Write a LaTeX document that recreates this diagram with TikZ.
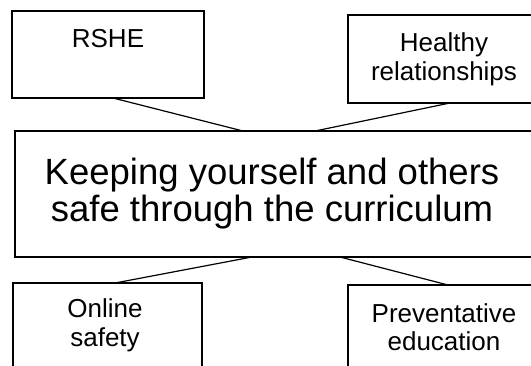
\documentclass[tikz,border=0pt]{standalone}
\usepackage{fontspec}
\setmainfont{Liberation Sans}
\begin{document}
\begin{tikzpicture}[x=1pt,y=-1pt,
  box/.style={draw=black,line width=1.2pt,fill=white,rectangle,inner sep=0pt},
  small/.style={anchor=base,inner sep=0pt,font=\fontsize{26}{30}\selectfont},
  big/.style={anchor=base,inner sep=0pt,font=\fontsize{36.5}{42}\selectfont},
  link/.style={draw=black,line width=1.2pt}]
\useasboundingbox (0,0) rectangle (531,365);
\clip (0,0) rectangle (531,365);
\fill[white] (0,0) rectangle (531,365);
% boxes
\node[box,minimum width=192pt,minimum height=87pt] (rshe) at (108,54.5) {};
\node[box,minimum width=192pt,minimum height=88pt] (healthy) at (444,59) {};
\node[box,minimum width=525pt,minimum height=126pt] (main) at (277.5,194) {};
\node[box,minimum width=189pt,minimum height=87pt] (online) at (107.5,326.5) {};
\node[box,minimum width=192pt,minimum height=85pt] (prev) at (444,327.5) {};
% texts
\node[small] (t1) at (108,47) {RSHE};
\node[small] (t2a) at (444,51) {Healthy};
\node[small] (t2b) at (444,80) {relationships};
\node[big] (t3a) at (272,184) {Keeping yourself and others};
\node[big] (t3b) at (272,221) {safe through the curriculum};
\node[small] (t4a) at (105,317) {Online};
\node[small] (t4b) at (105,346) {safety};
\node[small] (t5a) at (444,322) {Preventative};
\node[small] (t5b) at (444,350) {education};
% connector ends
\coordinate (a1) at (113,98);
\coordinate (a2) at (243,131);
\coordinate (b1) at (450,103);
\coordinate (b2) at (315,131);
\coordinate (c1) at (252,257);
\coordinate (c2) at (115,283);
\coordinate (d1) at (340,257);
\coordinate (d2) at (448,285);
\draw[link] (a1) -- (a2);
\draw[link] (b1) -- (b2);
\draw[link] (c1) -- (c2);
\draw[link] (d1) -- (d2);
\end{tikzpicture}
\end{document}
